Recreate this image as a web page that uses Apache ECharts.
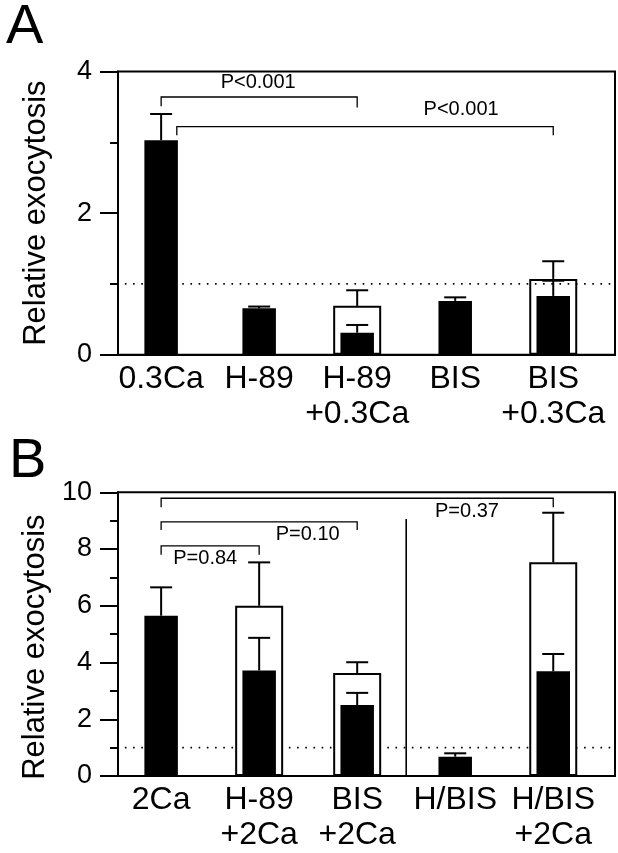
<!DOCTYPE html>
<html>
<head>
<meta charset="utf-8">
<script src="https://cdn.jsdelivr.net/npm/echarts@6/dist/echarts.min.js"></script>
<style>html,body{margin:0;padding:0;background:#fff}#c{width:618px;height:853px}</style>
</head>
<body>
<div id="c"></div>
<script>
// ---------- data ----------
const catsA = ['0.3Ca', 'H-89', 'H-89\n+0.3Ca', 'BIS', 'BIS\n+0.3Ca'];
const blackA = [3.03, 0.655, 0.31, 0.76, 0.83];
const blackErrA = [3.40, 0.68, 0.42, 0.81, 1.045];
const whiteA = [null, null, 0.69, null, 1.07];
const whiteErrA = [null, null, 0.91, null, 1.32];

const catsB = ['2Ca', 'H-89\n+2Ca', 'BIS\n+2Ca', 'H/BIS', 'H/BIS\n+2Ca'];
const blackB = [5.65, 3.72, 2.50, 0.68, 3.69];
const blackErrB = [6.65, 4.87, 2.93, 0.80, 4.30];
const whiteB = [null, 6.00, 3.63, null, 7.53];
const whiteErrB = [null, 7.53, 4.01, null, 9.28];

// brackets: [fromCat, toCat, yLine, yLeftEnd, yRightEnd]
const bracketsA = [[0, 2, 3.64, 3.51, 3.49], [0.16, 4, 3.22, 3.10, 3.10]];
const pTextA = ['P<0.001', 'P<0.001'];
const pPosA = [[0.99, 3.85], [3.06, 3.46]];

const bracketsB = [[0, 4, 9.79, 9.47, 9.47], [0, 2, 8.96, 8.67, 8.67], [0, 1, 8.11, 7.80, 7.80]];
const pTextB = ['P=0.37', 'P=0.10', 'P=0.84'];
const pPosB = [[3.12, 9.34], [1.495, 8.50], [0.45, 7.67]];

const refLevel = 1;          // dotted reference line (control level)
const refRange = [-0.37, 4.63];
const separatorB = [2.5, 0, 9.06]; // x, from, to

// ---------- helpers ----------
const FONT = '"Liberation Sans", Arial, Helvetica, sans-serif';
const X_MIN = -0.44, X_MAX = 4.63;

function pairs(vals) {
  const out = [];
  vals.forEach((v, i) => { if (v != null) out.push([i, v]); });
  return out;
}
function errPairs(base, top) {
  const out = [];
  base.forEach((b, i) => { if (b != null && top[i] != null) out.push([i, b, top[i]]); });
  return out;
}
function errRender(params, api) {
  const x = api.value(0), b = api.value(1), t = api.value(2);
  const p0 = api.coord([x, b]), p1 = api.coord([x, t]);
  return { type: 'group', children: [
    { type: 'line', shape: { x1: p0[0], y1: p0[1], x2: p1[0], y2: p1[1] }, style: { stroke: '#000', lineWidth: 2 } },
    { type: 'line', shape: { x1: p1[0] - 11, y1: p1[1], x2: p1[0] + 11, y2: p1[1] }, style: { stroke: '#000', lineWidth: 2 } }
  ]};
}
function bracketRender(params, api) {
  const x1 = api.value(0), x2 = api.value(1), y = api.value(2), yl = api.value(3), yr = api.value(4);
  const pts = [api.coord([x1, yl]), api.coord([x1, y]), api.coord([x2, y]), api.coord([x2, yr])];
  return { type: 'polyline', shape: { points: pts }, style: { stroke: '#000', lineWidth: 1.3, fill: null } };
}
function textRender(texts) {
  return function (params, api) {
    const p = api.coord([api.value(0), api.value(1)]);
    return { type: 'text', style: { text: texts[params.dataIndex], x: p[0], y: p[1], fill: '#000',
      font: '20px ' + FONT, align: 'center', verticalAlign: 'middle' } };
  };
}

function xAxes(grid, cats, showLabels) {
  return {
    gridIndex: grid, type: 'value', min: X_MIN, max: X_MAX, show: true,
    axisLine: { show: showLabels, onZero: false, lineStyle: { color: '#000', width: 2 } },
    axisTick: { show: false }, splitLine: { show: false },
    axisLabel: showLabels ? {
      show: true, customValues: [0, 1, 2, 3, 4], formatter: v => cats[Math.round(v)] || '',
      fontSize: 32, lineHeight: 35, margin: 7, color: '#000', fontFamily: FONT
    } : { show: false }
  };
}
function yAxis(grid, max, pad) {
  return {
    gridIndex: grid, type: 'value', min: 0, max: max, interval: 2,
    axisLine: { show: true, onZero: false, lineStyle: { color: '#000', width: 2 } },
    axisTick: { show: true, length: 18, lineStyle: { color: '#000', width: 2 } },
    minorTick: { show: true, splitNumber: 2, length: 8, lineStyle: { color: '#000', width: 2 } },
    splitLine: { show: false }, minorSplitLine: { show: false },
    axisLabel: { fontSize: 27, color: '#000', margin: 26, fontFamily: FONT },
    name: 'Relative exocytosis', nameLocation: 'middle', nameGap: 66, nameRotate: 90,
    nameTextStyle: { fontSize: 31, color: '#000', fontFamily: FONT, padding: pad }
  };
}
function panelSeries(xb, xw, y, black, blackErr, white, whiteErr, brackets, pPos, pText, refZ) {
  return [
    { type: 'bar', xAxisIndex: xw, yAxisIndex: y, data: pairs(white), barWidth: 48, z: 2,
      itemStyle: { color: '#fff', borderColor: '#000', borderWidth: 2 }, silent: true, animation: false },
    { type: 'bar', xAxisIndex: xb, yAxisIndex: y, data: pairs(black), barWidth: 33.5, z: 3,
      itemStyle: { color: '#000' }, silent: true, animation: false },
    { type: 'custom', xAxisIndex: xb, yAxisIndex: y, data: errPairs(white, whiteErr), renderItem: errRender, z: 4, silent: true, animation: false },
    { type: 'custom', xAxisIndex: xb, yAxisIndex: y, data: errPairs(black, blackErr), renderItem: errRender, z: 4, silent: true, animation: false },
    { type: 'custom', xAxisIndex: xb, yAxisIndex: y, data: brackets, renderItem: bracketRender, z: 4, silent: true, animation: false },
    { type: 'custom', xAxisIndex: xb, yAxisIndex: y, data: pPos, renderItem: textRender(pText), z: 4, silent: true, animation: false },
    { type: 'line', xAxisIndex: xb, yAxisIndex: y, data: [[refRange[0], refLevel], [refRange[1], refLevel]], symbol: 'none', z: refZ,
      lineStyle: { color: '#000', width: 1.6, type: [1.6, 6.6] }, silent: true, animation: false }
  ];
}

const chart = echarts.init(document.getElementById('c'), null, { renderer: 'canvas' });
const series = [].concat(
  panelSeries(0, 1, 0, blackA, blackErrA, whiteA, whiteErrA, bracketsA, pPosA, pTextA, 5),
  panelSeries(2, 3, 1, blackB, blackErrB, whiteB, whiteErrB, bracketsB, pPosB, pTextB, 1),
  [{ type: 'line', xAxisIndex: 2, yAxisIndex: 1, data: [[separatorB[0], separatorB[1]], [separatorB[0], separatorB[2]]],
     symbol: 'none', z: 2, lineStyle: { color: '#000', width: 1.6 }, silent: true, animation: false }]
);

chart.setOption({
  animation: false,
  backgroundColor: '#fff',
  textStyle: { fontFamily: FONT },
  title: [
    { text: 'A', left: 1, top: -5, textStyle: { fontSize: 56, fontWeight: 'normal', color: '#000', fontFamily: FONT } },
    { text: 'B', left: 4, top: 429, textStyle: { fontSize: 56, fontWeight: 'normal', color: '#000', fontFamily: FONT } }
  ],
  grid: [
    { left: 118, top: 71.5, width: 497, height: 283.2, show: true, borderColor: '#000', borderWidth: 2, backgroundColor: 'transparent' },
    { left: 118, top: 492.3, width: 497, height: 284.4, show: true, borderColor: '#000', borderWidth: 2, backgroundColor: 'transparent' }
  ],
  xAxis: [xAxes(0, catsA, true), xAxes(0, catsA, false), xAxes(1, catsB, true), xAxes(1, catsB, false)],
  yAxis: [yAxis(0, 4, [0, 0, 0, 0]), yAxis(1, 10, [0, 26, 0, 0])],
  series: series
});
</script>
</body>
</html>
